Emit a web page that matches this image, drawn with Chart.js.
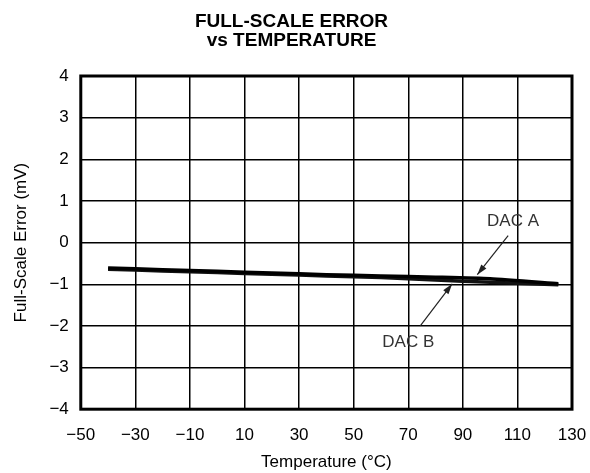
<!DOCTYPE html>
<html>
<head>
<meta charset="utf-8">
<script src="https://cdn.jsdelivr.net/npm/chart.js@4"></script>
<style>
  html, body { margin: 0; padding: 0; background: #fff; }
  #wrap { width: 590px; height: 473px; }
</style>
</head>
<body>
<div id="wrap"><canvas id="chart"></canvas></div>
<script>
// Data
const temps = [-40, -20, 0, 20, 40, 60, 80, 100, 125];
const dacA = [-0.61, -0.65, -0.69, -0.73, -0.77, -0.80, -0.83, -0.87, -0.99];
const dacB = [-0.64, -0.68, -0.72, -0.76, -0.80, -0.84, -0.90, -0.95, -1.01];
const xTicks = [-50, -30, -10, 10, 30, 50, 70, 90, 110, 130];
const yTicks = [-4, -3, -2, -1, 0, 1, 2, 3, 4];

const FONT = '"Liberation Sans", Arial, sans-serif';
const minus = v => String(v).replace('-', '\u2212');

// labels + arrows, positioned in data units
const callouts = [
    { text: 'DAC A', tx: 108.4, ty: 0.5, x0: 106.6, y0: 0.17, x1: 95.3, y1: -0.77 },
    { text: 'DAC B', tx: 70, ty: -2.39, x0: 74.4, y0: -2.0, x1: 86.1, y1: -0.99 }
];

const calloutPlugin = {
    id: 'callouts',
    afterDatasetsDraw(chart) {
        const { ctx, scales: { x, y } } = chart;
        ctx.save();
        ctx.font = '17px ' + FONT;
        ctx.fillStyle = '#333';
        ctx.strokeStyle = '#222';
        ctx.lineWidth = 1.2;
        ctx.textAlign = 'center';
        ctx.textBaseline = 'middle';
        callouts.forEach(c => {
            ctx.fillText(c.text, x.getPixelForValue(c.tx), y.getPixelForValue(c.ty));
            const ax = x.getPixelForValue(c.x0), ay = y.getPixelForValue(c.y0);
            const bx = x.getPixelForValue(c.x1), by = y.getPixelForValue(c.y1);
            ctx.beginPath();
            ctx.moveTo(ax, ay);
            ctx.lineTo(bx, by);
            ctx.stroke();
            const ang = Math.atan2(by - ay, bx - ax);
            const len = 11, w = 0.3;
            ctx.beginPath();
            ctx.moveTo(bx, by);
            ctx.lineTo(bx - len * Math.cos(ang - w), by - len * Math.sin(ang - w));
            ctx.lineTo(bx - len * Math.cos(ang + w), by - len * Math.sin(ang + w));
            ctx.closePath();
            ctx.fillStyle = '#222';
            ctx.fill();
            ctx.fillStyle = '#333';
        });
        // heavy frame
        const a = chart.chartArea;
        ctx.lineWidth = 3;
        ctx.strokeStyle = '#000';
        ctx.strokeRect(a.left, a.top, a.right - a.left, a.bottom - a.top);
        ctx.restore();
    }
};

new Chart(document.getElementById('chart'), {
    type: 'line',
    data: {
        datasets: [
            {
                label: 'DAC A',
                data: temps.map((t, i) => ({ x: t, y: dacA[i] })),
                borderColor: '#000',
                borderWidth: 3.5,
                pointRadius: 0,
                tension: 0.2
            },
            {
                label: 'DAC B',
                data: temps.map((t, i) => ({ x: t, y: dacB[i] })),
                borderColor: '#111',
                borderWidth: 3.5,
                pointRadius: 0,
                tension: 0.2
            }
        ]
    },
    options: {
        responsive: true,
        maintainAspectRatio: false,
        animation: false,
        layout: { padding: { left: 11, right: 18, top: 4, bottom: 0 } },
        plugins: {
            legend: { display: false },
            tooltip: { enabled: false },
            title: {
                display: true,
                text: ['FULL-SCALE ERROR', 'vs TEMPERATURE'],
                color: '#000',
                font: { family: FONT, size: 19, weight: 'bold', lineHeight: 1.0 },
                padding: { top: 8, bottom: 26 }
            }
        },
        scales: {
            x: {
                type: 'linear',
                min: -50,
                max: 130,
                afterBuildTicks: axis => { axis.ticks = xTicks.map(v => ({ value: v })); },
                ticks: {
                    color: '#000',
                    font: { family: FONT, size: 17 },
                    padding: 2,
                    maxRotation: 0,
                    callback: v => minus(v)
                },
                grid: { color: '#000', lineWidth: 1.5, drawTicks: true, tickLength: 14, tickColor: 'rgba(0,0,0,0)' },
                border: { display: false },
                title: {
                    display: true,
                    text: 'Temperature (\u00B0C)',
                    color: '#000',
                    font: { family: FONT, size: 17 },
                    padding: { top: 5, bottom: 0 }
                }
            },
            y: {
                type: 'linear',
                min: -4,
                max: 4,
                afterBuildTicks: axis => { axis.ticks = yTicks.map(v => ({ value: v })); },
                ticks: {
                    color: '#000',
                    font: { family: FONT, size: 17 },
                    padding: 12,
                    callback: v => minus(v)
                },
                grid: { color: '#000', lineWidth: 1.5, drawTicks: false },
                border: { display: false },
                title: {
                    display: true,
                    text: 'Full-Scale Error (mV)',
                    color: '#000',
                    font: { family: FONT, size: 17 },
                    padding: { top: 0, bottom: 6 }
                }
            }
        }
    },
    plugins: [calloutPlugin]
});
</script>
</body>
</html>
